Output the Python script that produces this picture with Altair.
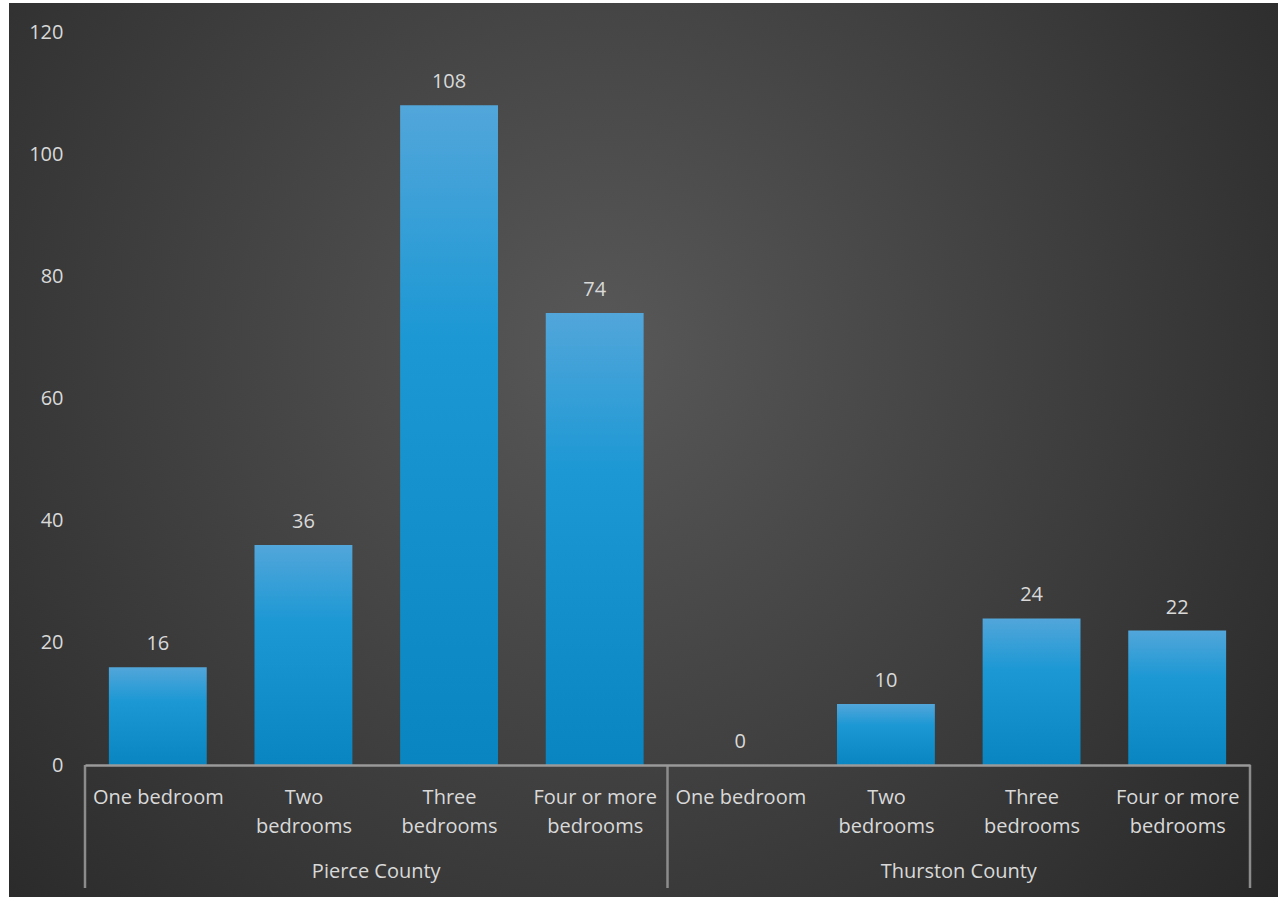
import json
import altair as alt
import pandas as pd

# ---- data ----
bedrooms = ["One bedroom", "Two bedrooms", "Three bedrooms", "Four or more bedrooms"]
counties = ["Pierce County", "Thurston County"]
pierce_values = [16, 36, 108, 74]
thurston_values = [0, 10, 24, 22]
y_ticks = [0, 20, 40, 60, 80, 100, 120]

values_by_county = [pierce_values, thurston_values]
rows = []
for g, county in enumerate(counties):
    for i, b in enumerate(bedrooms):
        rows.append({"county": county, "bedroom": b, "idx": g * len(bedrooms) + i,
                     "value": values_by_county[g][i]})
df = pd.DataFrame(rows)
n = len(df)

county_df = pd.DataFrame({"county": counties,
                          "center": [len(bedrooms) * (g + 0.5) for g in range(len(counties))]})
sep_df = pd.DataFrame({"pos": [len(bedrooms) * g for g in range(len(counties) + 1)]})
bg_df = pd.DataFrame({"k": [0]})

W, H = 1165, 733
FONT = "Open Sans"
TXT = "#d9d9d9"

def wrap(label):
    return [label] if len(label) <= 11 else label.rsplit(" ", 1)

label_lines = json.dumps([wrap(b) for b in bedrooms])

xscale = alt.Scale(domain=[0, n], nice=False, zero=False)
yscale = alt.Scale(domain=[0, 120], nice=False)

background = alt.Chart(bg_df).mark_rect(
    fill={"gradient": "radial", "x1": 0.47, "y1": 0.42, "r1": 0.0,
          "x2": 0.47, "y2": 0.42, "r2": 0.75,
          "stops": [{"offset": 0, "color": "#585858"},
                    {"offset": 0.55, "color": "#3b3b3b"},
                    {"offset": 1, "color": "#232323"}]},
    stroke=None,
).encode(
    x=alt.value(-76), x2=alt.value(W + 28),
    y=alt.value(-29), y2=alt.value(H + 132),
)

base = alt.Chart(df).transform_calculate(
    x1="datum.idx + 0.5 - 0.336", x2="datum.idx + 0.5 + 0.336",
    xc="datum.idx + 0.5", zero="0"
)

bars = base.mark_bar(
    fill={"gradient": "linear", "x1": 0, "y1": 0, "x2": 0, "y2": 1,
          "stops": [{"offset": 0, "color": "#52a6da"},
                    {"offset": 0.35, "color": "#1c98d4"},
                    {"offset": 1, "color": "#0985c1"}]},
).encode(
    x=alt.X("x1:Q", scale=xscale,
            axis=alt.Axis(values=[i + 0.5 for i in range(n)],
                          labelExpr=f"{label_lines}[floor(datum.value) % {len(bedrooms)}]",
                          title=None, ticks=False, grid=False, zindex=2,
                          domainColor="#9a9a9a", domainWidth=2.5,
                          labelColor=TXT, labelFont=FONT, labelFontSize=20,
                          labelBaseline="top", labelLineHeight=29, labelPadding=22,
                          labelOverlap=False, labelFlush=False, labelBound=False)),
    x2="x2:Q",
    y=alt.Y("value:Q", scale=yscale,
            axis=alt.Axis(values=y_ticks, title=None, ticks=False, grid=False, domain=False,
                          zindex=2,
                          labelColor=TXT, labelFont=FONT, labelFontSize=20, labelPadding=22)),
    y2="zero:Q",
)

labels = base.mark_text(
    font=FONT, fontSize=20, color=TXT, baseline="alphabetic", dy=-17
).encode(
    x=alt.X("xc:Q", scale=xscale),
    y=alt.Y("value:Q", scale=yscale),
    text="value:Q",
)

seps = alt.Chart(sep_df).mark_rule(color="#8c8c8c", strokeWidth=2.5).encode(
    x=alt.X("pos:Q", scale=xscale),
    y=alt.value(H), y2=alt.value(H + 123),
)

county_labels = alt.Chart(county_df).mark_text(
    font=FONT, fontSize=20, color=TXT, baseline="middle"
).encode(
    x=alt.X("center:Q", scale=xscale),
    y=alt.value(H + 107),
    text="county:N",
)

chart = alt.layer(background, bars, labels, seps, county_labels).properties(
    width=W, height=H,
    background="white",
    padding={"left": 9, "top": 3, "right": 0, "bottom": 0},
).configure_view(stroke=None)

chart.save("out.html", embed_options={"renderer": "svg", "actions": False})
